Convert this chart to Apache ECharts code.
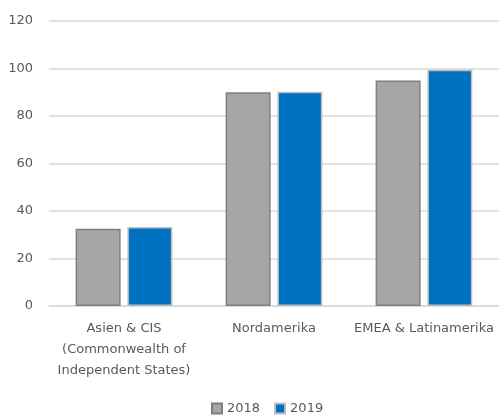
<!DOCTYPE html>
<html>
<head>
<meta charset="utf-8">
<script src="https://cdn.jsdelivr.net/npm/echarts@6/dist/echarts.min.js"></script>
<style>
  html, body { margin: 0; padding: 0; background: #fff; }
  #main { width: 499px; height: 419px; }
</style>
</head>
<body>
<div id="main"></div>
<script>
var categories = ['Asien & CIS\n(Commonwealth of\nIndependent States)', 'Nordamerika', 'EMEA & Latinamerika'];
var values2018 = [32.5, 90, 95];
var values2019 = [33.3, 90.2, 99.5];
var yTicks = [0, 20, 40, 60, 80, 100, 120];

var font = 'DejaVu Sans';
var chart = echarts.init(document.getElementById('main'));

var option = {
  animation: false,
  grid: { left: 49, right: 0, top: 21, bottom: 113 },
  legend: {
    bottom: -1,
    left: 206,
    itemWidth: 10,
    itemHeight: 10,
    itemGap: 14,
    icon: 'rect',
    textStyle: { fontFamily: font, fontSize: 13, color: '#595959' },
    data: ['2018', '2019']
  },
  xAxis: {
    type: 'category',
    data: categories,
    axisLine: { lineStyle: { color: '#d9d9d9', width: 1.5 } },
    axisTick: { show: false },
    axisLabel: {
      margin: 12,
      fontFamily: font,
      fontSize: 13,
      lineHeight: 21,
      color: '#595959',
      interval: 0
    }
  },
  yAxis: {
    type: 'value',
    min: yTicks[0],
    max: yTicks[yTicks.length - 1],
    interval: 20,
    axisLine: { show: false },
    axisTick: { show: false },
    splitLine: { lineStyle: { color: '#d9d9d9', width: 1.5 } },
    axisLabel: {
      margin: 16,
      fontFamily: font,
      fontSize: 13,
      color: '#595959'
    }
  },
  series: [
    {
      name: '2018',
      type: 'bar',
      data: values2018,
      barWidth: 45,
      barGap: '15%',
      itemStyle: { color: '#a6a6a6', borderColor: '#7f7f7f', borderWidth: 1.5 }
    },
    {
      name: '2019',
      type: 'bar',
      data: values2019,
      barWidth: 45,
      barGap: '15%',
      itemStyle: { color: '#0070c0', borderColor: '#bfbfbf', borderWidth: 1.5 }
    }
  ]
};

chart.setOption(option);
</script>
</body>
</html>
